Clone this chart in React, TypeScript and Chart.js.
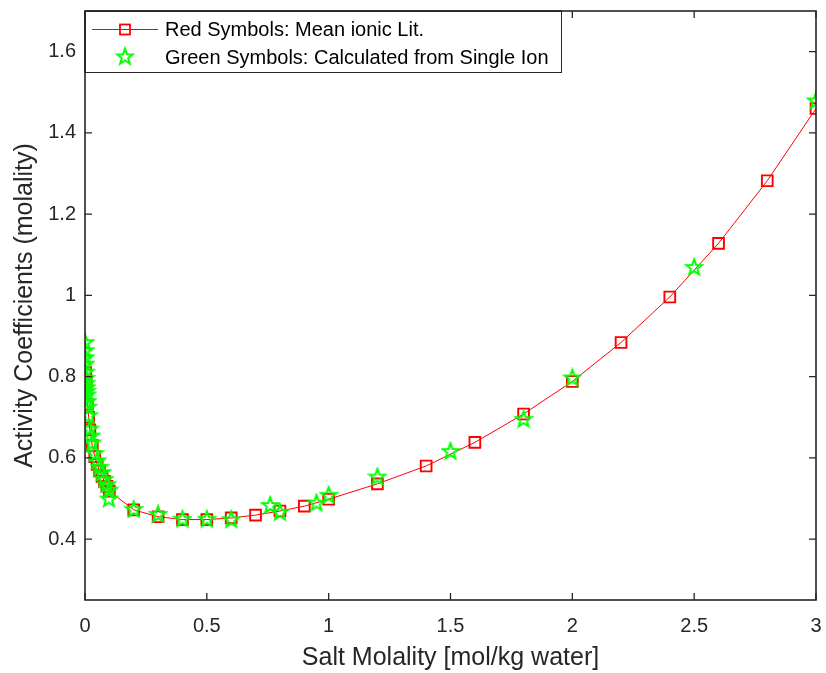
import React, { useEffect, useRef } from "react";
import { Chart, registerables } from "chart.js";

Chart.register(...registerables);

const X_RED = [0.003, 0.005, 0.01, 0.015, 0.02, 0.03, 0.04, 0.05, 0.06, 0.07, 0.08, 0.09, 0.1, 0.2, 0.3, 0.4, 0.5, 0.6, 0.7, 0.8, 0.9, 1.0, 1.2, 1.4, 1.6, 1.8, 2.0, 2.2, 2.4, 2.6, 2.8, 3.0];
const Y_RED = [0.81, 0.789, 0.732, 0.70, 0.669, 0.63, 0.603, 0.584, 0.568, 0.554, 0.542, 0.53, 0.518, 0.472, 0.455, 0.448, 0.448, 0.452, 0.459, 0.469, 0.481, 0.498, 0.536, 0.58, 0.638, 0.708, 0.788, 0.884, 0.996, 1.128, 1.282, 1.46];

const X_GREEN = [0.0005, 0.001, 0.0015, 0.002, 0.003, 0.004, 0.005, 0.006, 0.007, 0.008, 0.01, 0.012, 0.015, 0.02, 0.025, 0.03, 0.04, 0.05, 0.06, 0.07, 0.08, 0.09, 0.1, 0.098, 0.2, 0.3, 0.4, 0.5, 0.6, 0.76, 0.8, 0.95, 1.0, 1.2, 1.5, 1.8, 2.0, 2.5, 3.0];
const Y_GREEN = [0.885, 0.865, 0.848, 0.832, 0.812, 0.797, 0.785, 0.774, 0.765, 0.756, 0.74, 0.726, 0.705, 0.672, 0.655, 0.638, 0.612, 0.594, 0.578, 0.565, 0.548, 0.535, 0.522, 0.50, 0.474, 0.462, 0.450, 0.450, 0.449, 0.484, 0.467, 0.49, 0.509, 0.554, 0.617, 0.696, 0.798, 1.07, 1.48];

const X_TICKS = [0, 0.5, 1, 1.5, 2, 2.5, 3];
const Y_TICKS = [0.4, 0.6, 0.8, 1, 1.2, 1.4, 1.6];

const RED_LABEL = "Red Symbols: Mean ionic Lit.";
const GREEN_LABEL = "Green Symbols: Calculated from Single Ion";
const X_TITLE = "Salt Molality [mol/kg water]";
const Y_TITLE = "Activity Coefficients (molality)";

const AXIS_COLOR = "#262626";
const RED = "#ff0000";
const GREEN = "#00ff00";
const FONT = "'Liberation Sans', Arial, Helvetica, sans-serif";

function makeStar(): HTMLCanvasElement {
  const c = document.createElement("canvas");
  const s = 20;
  c.width = s;
  c.height = s;
  const ctx = c.getContext("2d")!;
  const cx = s / 2, cy = s / 2 + 0.7;
  const R = 8.3, r = 3.4;
  ctx.beginPath();
  for (let i = 0; i < 10; i++) {
    const rad = i % 2 === 0 ? R : r;
    const a = -Math.PI / 2 + (i * Math.PI) / 5;
    const x = cx + rad * Math.cos(a);
    const y = cy + rad * Math.sin(a);
    if (i === 0) ctx.moveTo(x, y);
    else ctx.lineTo(x, y);
  }
  ctx.closePath();
  ctx.strokeStyle = GREEN;
  ctx.lineWidth = 2;
  ctx.lineJoin = "miter";
  ctx.stroke();
  return c;
}

export default function App() {
  const ref = useRef<HTMLCanvasElement>(null);

  useEffect(() => {
    document.body.style.margin = "0";
    const star = makeStar();

    const boxPlugin = {
      id: "matlabBox",
      afterDatasetsDraw(chart: any) {
        const { ctx, chartArea } = chart;
        const { left, right, top, bottom } = chartArea;
        const xs = chart.scales.x;
        const ys = chart.scales.y;
        ctx.save();
        ctx.strokeStyle = AXIS_COLOR;
        ctx.lineWidth = 1.6;
        ctx.strokeRect(left, top, right - left, bottom - top);
        ctx.lineWidth = 1.3;
        const tl = 7;
        ctx.beginPath();
        X_TICKS.forEach((v) => {
          const px = xs.getPixelForValue(v);
          ctx.moveTo(px, bottom);
          ctx.lineTo(px, bottom - tl);
          ctx.moveTo(px, top);
          ctx.lineTo(px, top + tl);
        });
        Y_TICKS.forEach((v) => {
          const py = ys.getPixelForValue(v);
          ctx.moveTo(left, py);
          ctx.lineTo(left + tl, py);
          ctx.moveTo(right, py);
          ctx.lineTo(right - tl, py);
        });
        ctx.stroke();

        // legend
        const bx = left, by = top, bw = 476, bh = 61;
        ctx.fillStyle = "#ffffff";
        ctx.fillRect(bx, by, bw, bh);
        ctx.lineWidth = 1;
        ctx.strokeStyle = AXIS_COLOR;
        ctx.strokeRect(bx + 0.5, by + 0.5, bw, bh);
        ctx.lineWidth = 1.6;
        ctx.beginPath();
        ctx.moveTo(bx, by);
        ctx.lineTo(bx + bw + 1, by);
        ctx.moveTo(bx, by);
        ctx.lineTo(bx, by + bh + 1);
        ctx.stroke();
        const row1 = by + 18.5;
        const row2 = by + 46;
        ctx.strokeStyle = RED;
        ctx.lineWidth = 1;
        ctx.beginPath();
        ctx.moveTo(bx + 7, row1);
        ctx.lineTo(bx + 73, row1);
        ctx.stroke();
        ctx.lineWidth = 1.8;
        ctx.strokeRect(bx + 40 - 5, row1 - 5, 10, 10);
        ctx.drawImage(star, bx + 40 - 10, row2 - 10.7);
        ctx.fillStyle = "#000000";
        ctx.font = `20px ${FONT}`;
        ctx.textBaseline = "middle";
        ctx.textAlign = "left";
        ctx.fillText(RED_LABEL, bx + 80, row1 + 1);
        ctx.fillText(GREEN_LABEL, bx + 80, row2 + 1);
        ctx.restore();
      },
    };

    const chart = new Chart(ref.current!, {
      type: "scatter",
      data: {
        datasets: [
          {
            label: GREEN_LABEL,
            data: X_GREEN.map((x, i) => ({ x, y: Y_GREEN[i] })),
            showLine: false,
            pointStyle: star as any,
            pointRadius: 9,
            order: 0,
          },
          {
            label: RED_LABEL,
            data: X_RED.map((x, i) => ({ x, y: Y_RED[i] })),
            showLine: true,
            borderColor: RED,
            borderWidth: 1,
            pointStyle: "rect",
            pointRadius: 7.6,
            pointBorderWidth: 1.9,
            pointBorderColor: RED,
            pointBackgroundColor: "rgba(0,0,0,0)",
            backgroundColor: "rgba(0,0,0,0)",
            order: 1,
          } as any,
        ],
      },
      options: {
        animation: false,
        responsive: false,
        maintainAspectRatio: false,
        devicePixelRatio: 1,
        layout: { padding: { top: 11, right: 9, left: 0, bottom: 0 } },
        plugins: {
          legend: { display: false },
          tooltip: { enabled: false },
        },
        scales: {
          x: {
            type: "linear",
            min: 0,
            max: 3,
            afterFit: (s: any) => {
              s.height = 73;
              s.paddingLeft = 0;
              s.paddingRight = 0;
            },
            afterBuildTicks: (s: any) => {
              s.ticks = X_TICKS.map((v) => ({ value: v }));
            },
            grid: { display: false, drawTicks: false },
            border: { display: false },
            ticks: {
              color: AXIS_COLOR,
              font: { family: FONT, size: 20 },
              padding: 14,
              maxRotation: 0,
              callback: (v: any) => String(v),
            },
            title: {
              display: true,
              text: X_TITLE,
              color: AXIS_COLOR,
              font: { family: FONT, size: 25 },
              padding: { top: 0, bottom: 0 },
            },
          },
          y: {
            type: "linear",
            min: 0.25,
            max: 1.7,
            afterFit: (s: any) => {
              s.width = 85;
              s.paddingTop = 0;
              s.paddingBottom = 0;
            },
            afterBuildTicks: (s: any) => {
              s.ticks = Y_TICKS.map((v) => ({ value: v }));
            },
            grid: { display: false, drawTicks: false },
            border: { display: false },
            ticks: {
              color: AXIS_COLOR,
              font: { family: FONT, size: 20 },
              padding: 9,
              callback: (v: any) => String(v),
            },
            title: {
              display: true,
              text: Y_TITLE,
              color: AXIS_COLOR,
              font: { family: FONT, size: 25 },
              padding: { top: 10, bottom: 0 },
            },
          },
        },
      },
      plugins: [boxPlugin],
    } as any);

    return () => chart.destroy();
  }, []);

  return (
    <div style={{ width: 826, height: 673, background: "#ffffff" }}>
      <canvas ref={ref} width={826} height={673} style={{ display: "block" }} />
    </div>
  );
}
